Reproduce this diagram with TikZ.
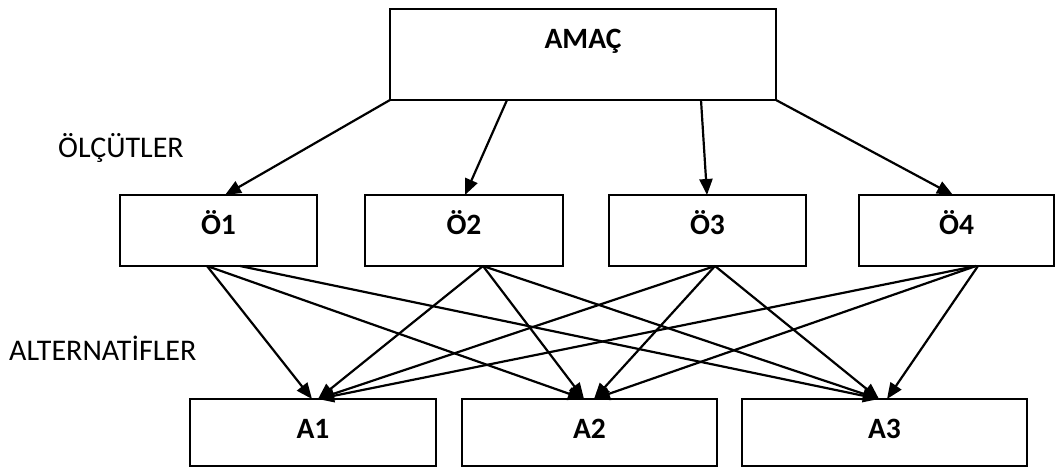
\documentclass[tikz,border=0pt]{standalone}
\usepackage{fontspec}
\setmainfont{Carlito}
\usetikzlibrary{arrows.meta}
\begin{document}
\begin{tikzpicture}[x=1pt,y=-1pt,
 box/.style={draw,line width=2pt,inner sep=0pt,outer sep=0pt,font=\fontsize{29.5}{34}\selectfont\bfseries},
 obox/.style={box,minimum width=197pt,minimum height=71pt,text height=19pt,text depth=12pt},
 abox/.style={box,minimum height=67pt,text height=20pt,text depth=9pt},
 conn/.style={line width=2.2pt,-{Triangle[length=16pt,width=13pt]}},
 lbl/.style={font=\fontsize{30}{34}\selectfont,inner sep=0pt,anchor=base west}]
\useasboundingbox (0,0) rectangle (1055,467);
\node[box,minimum width=386pt,minimum height=91pt,text height=2pt,text depth=15pt] (amac) at (583,54.5) {AMAÇ};
\node[obox] (o1) at (218.5,230.5) {Ö1};
\node[obox,minimum width=198pt] (o2) at (464,230.5) {Ö2};
\node[obox] (o3) at (707.5,230.5) {Ö3};
\node[obox,minimum width=195pt] (o4) at (956.5,230.5) {Ö4};
\node[abox,minimum width=246pt] (a1) at (313,432.5) {A1};
\node[abox,minimum width=255pt] (a2) at (589.5,432.5) {A2};
\node[abox,minimum width=285pt] (a3) at (884.5,432.5) {A3};
\node[lbl] (lo) at (58,157) {ÖLÇÜTLER};
\node[lbl] (la) at (9,360) {ALTERNATİFLER};
% goal to criteria
\draw[conn] (amac.south west) -- ([xshift=6.5pt]o1.north);
\draw[conn] ([xshift=-76pt]amac.south) -- ([xshift=1pt]o2.north);
\draw[conn] ([xshift=118pt]amac.south) -- ([xshift=-0.5pt]o3.north);
\draw[conn] (amac.south east) -- ([xshift=-3.5pt]o4.north);
% criteria to alternatives
\draw[conn] ([xshift=-11.5pt]o1.south) -- ([xshift=-1pt]a1.north);
\draw[conn] ([xshift=-11.5pt]o1.south) -- ([xshift=-5.5pt]a2.north);
\draw[conn] ([xshift=21.5pt]o1.south) -- ([xshift=-5.5pt]a3.north);
\draw[conn] ([xshift=19pt]o2.south) -- ([xshift=5pt]a1.north);
\draw[conn] ([xshift=19pt]o2.south) -- ([xshift=-5.5pt]a2.north);
\draw[conn] ([xshift=19pt]o2.south) -- ([xshift=-5.5pt]a3.north);
\draw[conn] ([xshift=7.5pt]o3.south) -- ([xshift=5pt]a1.north);
\draw[conn] ([xshift=7.5pt]o3.south) -- ([xshift=4.5pt]a2.north);
\draw[conn] ([xshift=7.5pt]o3.south) -- ([xshift=-5.5pt]a3.north);
\draw[conn] ([xshift=19.5pt]o4.south) -- ([xshift=5pt]a1.north);
\draw[conn] ([xshift=19.5pt]o4.south) -- ([xshift=4.5pt]a2.north);
\draw[conn] ([xshift=21.5pt]o4.south) -- ([xshift=2.5pt]a3.north);
\end{tikzpicture}
\end{document}
